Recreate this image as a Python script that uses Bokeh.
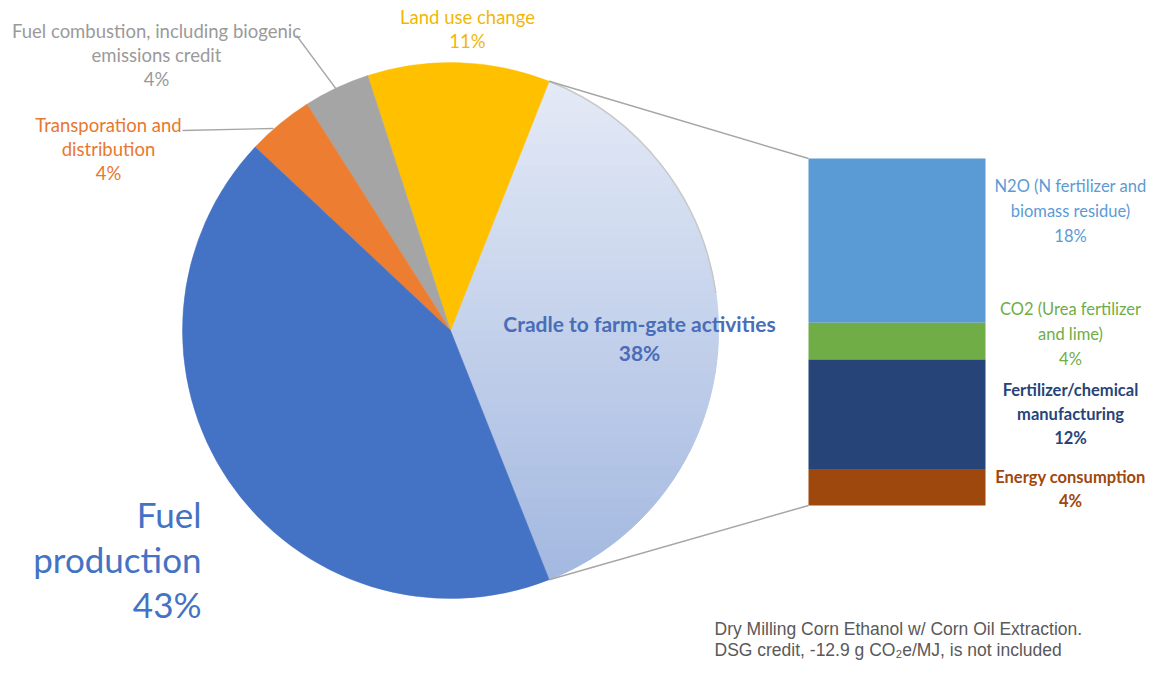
import math
from bokeh.plotting import figure
from bokeh.models import Range1d
from bokeh.core.properties import value
from bokeh.embed import file_html
from bokeh.resources import INLINE

# ---------------- data ----------------
pie_labels = ["Cradle to farm-gate activities", "Land use change",
              "Fuel combustion, including biogenic emissions credit",
              "Transporation and distribution", "Fuel production"]
pie_values = [38, 11, 4, 4, 43]
pie_colors = ["#c3d1eb", "#ffc000", "#a5a5a5", "#ed7d31", "#4472c4"]

bar_labels = ["N2O (N fertilizer and biomass residue)", "CO2 (Urea fertilizer and lime)",
              "Fertilizer/chemical manufacturing", "Energy consumption"]
bar_values = [18, 4, 12, 4]
bar_colors = ["#5b9bd5", "#70ad47", "#264478", "#9e480e"]

note_lines = ["Dry Milling Corn Ethanol w/ Corn Oil Extraction.",
              "DSG credit, -12.9 g CO\u2082e/MJ, is not included"]

# ---------------- layout (reference pixel coords, y down) ----------------
W, H = 1152, 661
def Y(y):
    return 677 - y

CX, CY, R = 450, 330, 268
BAR_L, BAR_R, BAR_TOP, BAR_BOT = 808, 985, 158, 505

p = figure(width=W, height=H, output_backend="svg", toolbar_location=None,
           x_range=Range1d(0, W), y_range=Range1d(677 - H, 677),
           x_axis_type=None, y_axis_type=None, min_border=0)
p.outline_line_color = None
p.xgrid.visible = False
p.ygrid.visible = False
p.background_fill_color = "white"
p.border_fill_color = "white"

total = sum(pie_values)
# cradle slice centred on 0 deg; others continue counter-clockwise
start = -pie_values[0] / total * 180.0
angles = []
a = start
for v in pie_values:
    span = v / total * 360.0
    angles.append((a, a + span))
    a += span

# ---- cradle slice as vertical gradient (horizontal bands) ----
a0, a1 = angles[0]
poly = [(CX, Y(CY))]
n = 120
for i in range(n + 1):
    t = math.radians(a0 + (a1 - a0) * i / n)
    poly.append((CX + R * math.cos(t), Y(CY) + R * math.sin(t)))

def clip(pg, y0, keep_above):
    out = []
    m = len(pg)
    for i in range(m):
        P = pg[i]; Q = pg[(i + 1) % m]
        inP = P[1] >= y0 if keep_above else P[1] <= y0
        inQ = Q[1] >= y0 if keep_above else Q[1] <= y0
        if inP:
            out.append(P)
        if inP != inQ:
            tt = (y0 - P[1]) / (Q[1] - P[1])
            out.append((P[0] + tt * (Q[0] - P[0]), y0))
    return out

def hex2rgb(h):
    h = h.lstrip("#")
    return tuple(int(h[i:i + 2], 16) for i in (0, 2, 4))

top_c, bot_c = hex2rgb("#e4eaf6"), hex2rgb("#a3b8e0")
ys = [pt[1] for pt in poly]
ymin, ymax = min(ys), max(ys)
nb = 48
xs_b, ys_b, cs_b = [], [], []
for b in range(nb):
    lo = ymin + (ymax - ymin) * b / nb
    hi = ymin + (ymax - ymin) * (b + 1) / nb
    pg = clip(clip(poly, lo, True), hi, False)
    if len(pg) < 3:
        continue
    f = (b + 0.5) / nb
    c = tuple(int(round(bot_c[k] + (top_c[k] - bot_c[k]) * f)) for k in range(3))
    xs_b.append([q[0] for q in pg]); ys_b.append([q[1] for q in pg])
    cs_b.append("#%02x%02x%02x" % c)
p.patches(xs_b, ys_b, fill_color=cs_b, line_color=cs_b, line_width=1)

# ---- other slices ----
for (s, e), col in zip(angles[1:], pie_colors[1:]):
    p.wedge(x=CX, y=Y(CY), radius=R, start_angle=math.radians(s), end_angle=math.radians(e),
            fill_color=col, line_color=col, line_width=0.5)

# gray rim on upper part of cradle slice
p.arc(x=CX, y=Y(CY), radius=R, start_angle=math.radians(8), end_angle=math.radians(a1),
      line_color="#c9c9c9", line_width=1.5)

# ---- connector lines ----
tx = CX + R * math.cos(math.radians(a1)); ty = Y(CY) + R * math.sin(math.radians(a1))
bx = CX + R * math.cos(math.radians(a0)); by = Y(CY) + R * math.sin(math.radians(a0))
p.line([tx, BAR_L], [ty, Y(BAR_TOP)], line_color="#a6a6a6", line_width=1.5)
p.line([bx, BAR_L], [by, Y(BAR_BOT)], line_color="#a6a6a6", line_width=1.5)

# ---- stacked bar ----
scale = (BAR_BOT - BAR_TOP) / sum(bar_values)
cum = 0
tops, bots = [], []
for v in bar_values:
    tops.append(Y(BAR_TOP + cum * scale))
    cum += v
    bots.append(Y(BAR_TOP + cum * scale))
p.quad(left=BAR_L, right=BAR_R, top=tops, bottom=bots, fill_color=bar_colors, line_color=None)

# ---- leader lines ----
p.line([296, 336], [Y(35), Y(89)], line_color="#a6a6a6", line_width=1.3)
p.line([182, 273], [Y(130), Y(128)], line_color="#a6a6a6", line_width=1.3)

# ---- labels ----
def txt(lines, x, y0, dy, color, size, align="center", weight="normal", font="Lato"):
    for i, s in enumerate(lines):
        p.text(x=[x], y=[Y(y0 + i * dy)], text=[s], text_color=color,
               text_font=value(font), text_font_size=f"{size}px",
               text_font_style=weight, text_align=align, text_baseline="middle")

pct = [f"{v}%" for v in pie_values]
bpct = [f"{v}%" for v in bar_values]

txt(["Cradle to farm-gate activities", pct[0]], 639, 323, 29, "#4a6db8", 21, weight="bold")
txt(["Land use change", pct[1]], 467, 16, 24, "#f2b705", 18.5)
txt(["Fuel combustion, including biogenic", "emissions credit", pct[2]], 156, 30, 24, "#9a9a9a", 18.5)
txt(["Transporation and", "distribution", pct[3]], 108, 124, 24, "#e8782e", 18.5)
txt(["Fuel", "production", pct[4]], 201, 513, 45, "#4472c4", 35, align="right")

BX = 1070
txt(["N2O (N fertilizer and", "biomass residue)", bpct[0]], BX, 185, 25, "#5b9bd5", 16.5)
txt(["CO2 (Urea fertilizer", "and lime)", bpct[1]], BX, 308, 25, "#70ad47", 16.5)
txt(["Fertilizer/chemical", "manufacturing", bpct[2]], BX, 389, 24, "#264478", 16.5, weight="bold")
txt(["Energy consumption", bpct[3]], BX, 476, 24, "#9e480e", 16.5, weight="bold")

txt(note_lines, 714, 628, 21, "#595959", 17.5, align="left", font="Liberation Sans")

open("out.html", "w").write(file_html(p, INLINE))
